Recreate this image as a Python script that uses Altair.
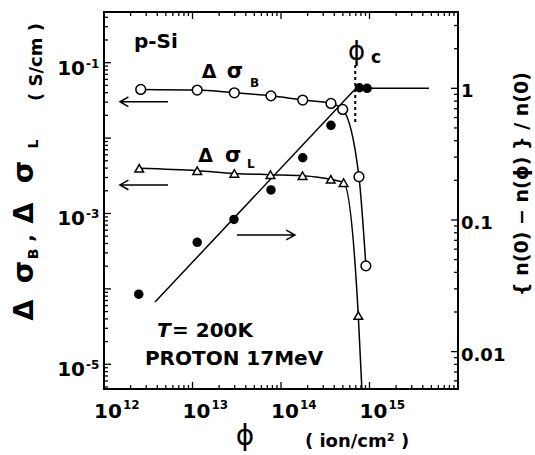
import altair as alt
import pandas as pd

# ---------------- data ----------------
sigB_phi = [2.6e12, 1.13e13, 2.97e13, 7.7e13, 1.76e14, 3.67e14, 4.98e14, 7.6e14, 9.1e14]
sigB_val = [0.0442, 0.0433, 0.0398, 0.0363, 0.0319, 0.0288, 0.024, 0.00307, 0.000202]

sigL_phi = [2.5e12, 1.13e13, 2.97e13, 7.6e13, 1.75e14, 3.65e14, 5.1e14, 7.47e14]
sigL_val = [0.00397, 0.00369, 0.0034, 0.00327, 0.00317, 0.00284, 0.00256, 4.43e-5]
sigL_curve_end_phi = 8.2e14      # where the sigma_L curve leaves the frame
sigL_curve_end_val = 4.7e-6

frac_phi = [2.47e12, 1.13e13, 2.94e13, 7.7e13, 1.76e14, 3.67e14, 7.7e14, 9.4e14]
frac_val = [0.0273, 0.0677, 0.101, 0.169, 0.297, 0.524, 1.01, 1.0]

fit_phi = [3.77e12, 7.03e14, 4.7e15]
fit_val = [0.0238, 1.0, 1.0]

phi_c = 6.9e14
phi_c_span = [0.555, 1.58]

x_major = [1e12, 1e13, 1e14, 1e15, 1e16]
x_label_vals = [1e12, 1e13, 1e14, 1e15]
x_label_sup = ["12", "13", "14", "15"]
yl_major = [1e-5, 1e-4, 1e-3, 1e-2, 1e-1]
yl_label_vals = [1e-1, 1e-3, 1e-5]
yl_label_sup = ["-1", "-3", "-5"]
yr_major = [0.01, 0.1, 1.0]
yr_label_text = ["0.01", "0.1", "1"]

# ---------------- scales ----------------
W, H = 354, 377
FONT = "DejaVu Sans"
XDOM = [1e12, 1e16]
YLDOM = [4.7e-6, 0.47]
YRDOM = [0.0052, 3.8]


def minors(lo, hi, kmin, kmax):
    out = []
    for k in range(kmin, kmax + 1):
        for m in range(2, 10):
            v = m * 10.0 ** k
            if lo <= v <= hi:
                out.append(v)
    return out


x_minor = minors(XDOM[0], XDOM[1], 12, 15)
yl_minor = minors(YLDOM[0], YLDOM[1], -6, -1)
yr_minor = minors(YRDOM[0], YRDOM[1], -3, 0)


def X(f="x"):
    return alt.X(f"{f}:Q", scale=alt.Scale(type="log", domain=XDOM, nice=False), axis=None)


def YL(f="y"):
    return alt.Y(f"{f}:Q", scale=alt.Scale(type="log", domain=YLDOM, nice=False), axis=None)


def YR(f="y"):
    return alt.Y(f"{f}:Q", scale=alt.Scale(type="log", domain=YRDOM, nice=False), axis=None)


def df(**cols):
    return pd.DataFrame(cols)


layers = []

# ---------------- inward ticks ----------------
for vals, L in [(x_major, 7), (x_minor, 4)]:
    d = df(x=vals)
    layers.append(alt.Chart(d).mark_rule(color="black", strokeWidth=1.3).encode(
        x=X(), y=alt.value(H), y2=alt.value(H - L)))
    layers.append(alt.Chart(d).mark_rule(color="black", strokeWidth=1.3).encode(
        x=X(), y=alt.value(0), y2=alt.value(L)))
for vals, L in [(yl_major, 7), (yl_minor, 4)]:
    layers.append(alt.Chart(df(y=vals)).mark_rule(color="black", strokeWidth=1.3).encode(
        y=YL(), x=alt.value(0), x2=alt.value(L)))
for vals, L in [(yr_major, 7), (yr_minor, 4)]:
    layers.append(alt.Chart(df(y=vals)).mark_rule(color="black", strokeWidth=1.3).encode(
        y=YR(), x=alt.value(W), x2=alt.value(W - L)))

# ---------------- curves ----------------
layers.append(alt.Chart(df(x=fit_phi, y=fit_val)).mark_line(
    color="black", strokeWidth=1.5, clip=True).encode(x=X(), y=YR()))
layers.append(alt.Chart(df(x=sigB_phi, y=sigB_val)).mark_line(
    color="black", strokeWidth=1.5, interpolate="monotone", clip=True).encode(x=X(), y=YL()))
layers.append(alt.Chart(df(x=sigL_phi + [sigL_curve_end_phi], y=sigL_val + [sigL_curve_end_val])).mark_line(
    color="black", strokeWidth=1.5, interpolate="monotone", clip=True).encode(x=X(), y=YL()))
layers.append(alt.Chart(df(x=[phi_c, phi_c], y=phi_c_span)).mark_line(
    color="black", strokeWidth=2, strokeDash=[3, 3]).encode(x=X(), y=YR()))

# ---------------- markers ----------------
layers.append(alt.Chart(df(x=frac_phi, y=frac_val)).mark_circle(
    color="black", size=90, opacity=1).encode(x=X(), y=YR()))
layers.append(alt.Chart(df(x=sigB_phi, y=sigB_val)).mark_point(
    shape="circle", filled=True, fill="white", stroke="black", strokeWidth=1.5,
    size=95, opacity=1).encode(x=X(), y=YL()))
layers.append(alt.Chart(df(x=sigL_phi, y=sigL_val)).mark_point(
    shape="triangle-up", filled=True, fill="white", stroke="black", strokeWidth=1.5,
    size=75, opacity=1).encode(x=X(), y=YL()))

# ---------------- arrows ----------------
LEFT_ARROW = "M -1 0 L 1 0 M -0.65 -0.2 L -1 0 L -0.65 0.2"
RIGHT_ARROW = "M -1 0 L 1 0 M 0.7 -0.17 L 1 0 L 0.7 0.17"
layers.append(alt.Chart(df(x=[2.83e12, 2.83e12], y=[0.0303, 0.00239])).mark_point(
    shape=LEFT_ARROW, filled=False, stroke="black", strokeWidth=1.5, size=2304, opacity=1
).encode(x=X(), y=YL()))
layers.append(alt.Chart(df(x=[6.76e13], y=[0.0769])).mark_point(
    shape=RIGHT_ARROW, filled=False, stroke="black", strokeWidth=1.5, size=3364, opacity=1
).encode(x=X(), y=YR()))

# ---------------- in-plot annotations ----------------
def tl(x, y, t, yscale, size=20, weight="bold", style="normal", align="left", baseline="alphabetic"):
    yenc = YL() if yscale == "L" else YR()
    return alt.Chart(df(x=[x], y=[y], t=[t])).mark_text(
        font=FONT, fontSize=size, fontWeight=weight, fontStyle=style, align=align,
        baseline=baseline, color="black").encode(x=X(), y=yenc, text="t:N")


layers += [
    tl(2.18e12, 0.1556, "p-Si", "L", 20),
    tl(1.27e13, 0.0618, "Δ", "L", 19),
    tl(2.43e13, 0.0618, "σ", "L", 21),
    tl(4.47e13, 0.0478, "B", "L", 12),
    tl(1.16e13, 0.00485, "Δ", "L", 19),
    tl(2.33e13, 0.00485, "σ", "L", 21),
    tl(4.13e13, 0.00401, "L", "L", 12),
    tl(3.97e12, 2.33e-5, "T", "L", 20, style="italic"),
    tl(5.87e12, 2.33e-5, "= 200K", "L", 20),
    tl(2.9e12, 9.84e-6, "PROTON 17MeV", "L", 20),
    tl(7.13e14, 1.90, "ϕ", "R", 26, weight="normal", align="center", baseline="middle"),
    tl(1.04e15, 1.56, "c", "R", 17),
]

# ---------------- tick labels ----------------
layers.append(alt.Chart(df(x=x_label_vals, t=["10"] * 4)).mark_text(
    font=FONT, fontSize=20, fontWeight="bold", align="left", baseline="alphabetic", dx=-10
).encode(x=X(), y=alt.value(H + 29), text="t:N"))
layers.append(alt.Chart(df(x=x_label_vals, t=x_label_sup)).mark_text(
    font=FONT, fontSize=12, fontWeight="bold", align="left", baseline="alphabetic", dx=19
).encode(x=X(), y=alt.value(H + 20), text="t:N"))
layers.append(alt.Chart(df(y=yl_label_vals, t=["10"] * 3)).mark_text(
    font=FONT, fontSize=20, fontWeight="bold", align="right", baseline="alphabetic", dy=12
).encode(y=YL(), x=alt.value(-19), text="t:N"))
layers.append(alt.Chart(df(y=yl_label_vals, t=yl_label_sup)).mark_text(
    font=FONT, fontSize=12, fontWeight="bold", align="left", baseline="alphabetic", dy=5
).encode(y=YL(), x=alt.value(-18), text="t:N"))
layers.append(alt.Chart(df(y=yr_major, t=yr_label_text)).mark_text(
    font=FONT, fontSize=18, fontWeight="bold", align="left", baseline="alphabetic", dy=9
).encode(y=YR(), x=alt.value(W + 3), text="t:N"))

# ---------------- axis titles ----------------
def tv(x, y, t, size, weight="bold", angle=0, align="center", baseline="alphabetic"):
    return alt.Chart(df(t=[t])).mark_text(
        font=FONT, fontSize=size, fontWeight=weight, angle=angle, align=align,
        baseline=baseline, color="black").encode(x=alt.value(x), y=alt.value(y), text="t:N")


layers += [
    tv(-71, 298, "Δ", 27, angle=270),
    tv(-71, 260, "σ", 29, angle=270),
    tv(-66, 242, "B", 14, angle=270),
    tv(-71, 226, ",", 20, angle=270),
    tv(-71, 201, "Δ", 27, angle=270),
    tv(-71, 160, "σ", 29, angle=270),
    tv(-66, 132, "L", 14, angle=270),
    tv(-62, 50, "( S/cm )", 18, angle=270),
    tv(424, 172, "{ n(0) − n(ϕ) } / n(0)", 19, angle=270),
    tv(141, 425, "ϕ", 28, weight="normal", baseline="middle"),
    tv(253, 435, "( ion/cm² )", 18),
]

chart = alt.layer(*layers).resolve_scale(y="independent").properties(
    width=W, height=H,
    autosize=alt.AutoSizeParams(type="none"),
    padding={"left": 104, "top": 12, "right": 77, "bottom": 66},
    background="white",
).configure_view(stroke="black", strokeWidth=2)

chart.save("out.html", embed_options={"renderer": "svg", "actions": False})
